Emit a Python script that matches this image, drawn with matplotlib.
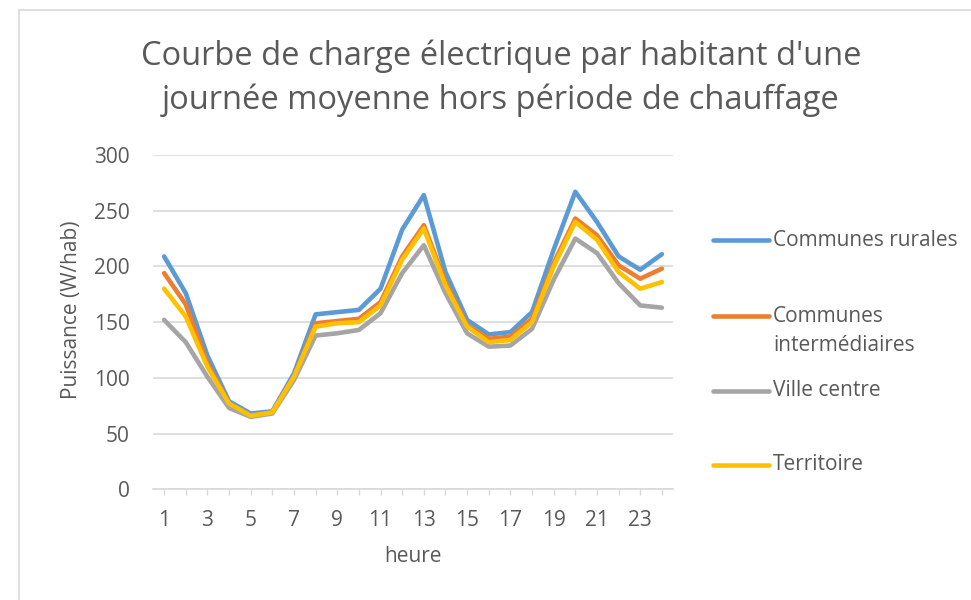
import matplotlib.pyplot as plt
import matplotlib.patches as patches
import numpy as np

# Données (W/hab)
heures = list(range(1, 25))
rurales = [209, 176, 120, 79, 68, 70, 104, 157, 159, 161, 180, 233,
           264, 195, 152, 139, 141, 159, 215, 267, 240, 209, 197, 211]
intermediaires = [194, 166, 113, 77, 66, 69, 101, 149, 151, 153, 168, 209,
                  237, 186, 147, 135, 137, 153, 203, 243, 228, 201, 189, 198]
ville_centre = [152, 132, 101, 73, 65, 68, 98, 138, 140, 143, 158, 194,
                219, 176, 140, 128, 129, 144, 188, 225, 212, 185, 165, 163]
territoire = [180, 155, 110, 77, 66, 69, 101, 146, 149, 150, 165, 206,
              234, 183, 146, 132, 134, 150, 200, 240, 224, 195, 180, 186]

noms = ["Communes rurales", "Communes\nintermédiaires", "Ville centre", "Territoire"]
couleurs = ["#5B9BD5", "#ED7D31", "#A5A5A5", "#FFC000"]
series = [rurales, intermediaires, ville_centre, territoire]

plt.rcParams['font.family'] = ['Open Sans', 'DejaVu Sans']
gris = "#595959"

fig = plt.figure(figsize=(9.71, 6.0), dpi=100)
ax = fig.add_axes([153.3 / 971, 1 - 489.3 / 600, 519.4 / 971, 334.3 / 600])

# cadre du graphique
fig.patches.append(patches.Rectangle((19 / 971, -0.1), 2, 1 - 10 / 600 + 0.1,
                                     transform=fig.transFigure, fill=False,
                                     edgecolor="#D9D9D9", linewidth=1.2))

for y, c in zip(series, couleurs):
    ax.plot(heures, y, color=c, linewidth=3.3, solid_capstyle='round',
            solid_joinstyle='round')

ax.set_xlim(0.5, 24.5)
ax.set_ylim(0, 300)
ax.set_yticks(np.arange(0, 301, 50))
ax.set_xticks(heures)
ax.set_xticklabels([str(h) if h % 2 == 1 else "" for h in heures])
ax.grid(axis='y', color="#D9D9D9", linewidth=1.2)
ax.set_axisbelow(True)
for s in ['top', 'right', 'left']:
    ax.spines[s].set_visible(False)
ax.spines['bottom'].set_color("#D9D9D9")
ax.spines['bottom'].set_linewidth(1.2)
ax.tick_params(axis='y', length=0, pad=17, labelsize=15, labelcolor=gris)
ax.tick_params(axis='x', length=4, color="#D9D9D9", width=1, pad=11,
               labelsize=15, labelcolor=gris)

ax.set_ylabel("Puissance (W/hab)", fontsize=15, color=gris)
ax.yaxis.set_label_coords(-(153.3 - 82) / 519.4, (489.3 - 310) / 334.3)
ax.set_xlabel("heure", fontsize=15, color=gris, labelpad=11)

fig.text(0.5 * (140 + 862) / 971, 1 - 78 / 600,
         "Courbe de charge électrique par habitant d'une\njournée moyenne hors période de chauffage",
         ha='center', va='center', fontsize=23.5, color=gris, linespacing=1.4)

# légende
ypos = [240, 316, 391, 465]
for nom, c, yp in zip(noms, couleurs, ypos):
    fig.lines.append(plt.Line2D([713 / 971, 769 / 971], [1 - yp / 600] * 2,
                                transform=fig.transFigure, color=c,
                                linewidth=3.3, solid_capstyle='round'))
    if '\n' in nom:
        fig.text(773 / 971, 1 - (yp + 15) / 600, nom, ha='left', va='center',
                 fontsize=15, color=gris, linespacing=1.45)
    else:
        fig.text(773 / 971, 1 - yp / 600, nom, ha='left', va='center',
                 fontsize=15, color=gris)

fig.savefig("out.png", dpi=100)
